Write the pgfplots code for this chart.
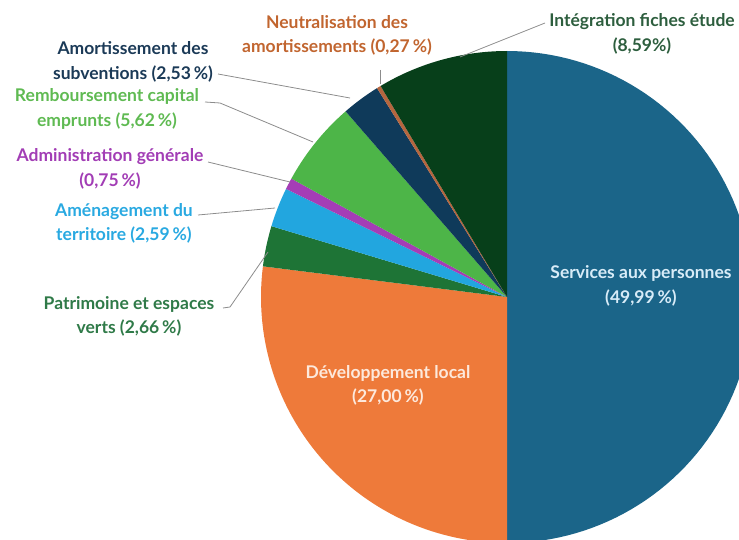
\documentclass[border=0pt]{standalone}
\usepackage{fontspec}
\setmainfont{Lato}
\usepackage{pgfplots}
\pgfplotsset{compat=1.18}

\definecolor{cServ}{HTML}{1B6589}
\definecolor{cDev}{HTML}{EE7A3A}
\definecolor{cPat}{HTML}{1E7436}
\definecolor{cAme}{HTML}{22A6DF}
\definecolor{cAdm}{HTML}{A53DB6}
\definecolor{cRem}{HTML}{4DB548}
\definecolor{cAmo}{HTML}{0F3A5A}
\definecolor{cNeu}{HTML}{B5663F}
\definecolor{cInt}{HTML}{073F1A}

\definecolor{tNeu}{HTML}{C1652F}
\definecolor{tInt}{HTML}{2D5E3E}
\definecolor{tAmo}{HTML}{1B3A57}
\definecolor{tRem}{HTML}{5FBA52}
\definecolor{tAdm}{HTML}{A23DB5}
\definecolor{tAme}{HTML}{29A9E1}
\definecolor{tPat}{HTML}{2F7A48}
\definecolor{tServ}{HTML}{D8ECF8}
\definecolor{tDev}{HTML}{FDE9DC}

% one sector: #1 = share before it (%), #2 = its share (%), #3 = colour
% clockwise from 12 o'clock, centre (507,242), radius 246
\newcommand{\slice}[3]{%
  \addplot[draw=none, fill=#3, domain={90-3.6*(#1+#2)}:{90-3.6*(#1)},
    samples=90, variable=\t]
    ({507+246*cos(\t)}, {242+246*sin(\t)}) -- (axis cs:507,242) -- cycle;
}

\begin{document}
\begin{tikzpicture}[
    lbl/.style={align=center, font=\bfseries\fontsize{17.5}{24.5}\selectfont},
    lead/.style={draw=black!45, line width=0.8pt},
]
\begin{axis}[
    hide axis,
    scale only axis,
    width=739pt, height=539pt,
    xmin=0, xmax=739, ymin=0, ymax=539,
    clip=true,
]
\slice{0}{49.99}{cServ}
\slice{49.99}{27.00}{cDev}
\slice{76.99}{2.66}{cPat}
\slice{79.65}{2.59}{cAme}
\slice{82.24}{0.75}{cAdm}
\slice{82.99}{5.62}{cRem}
\slice{88.61}{2.53}{cAmo}
\slice{91.14}{0.27}{cNeu}
\slice{91.41}{8.59}{cInt}

% leader lines
\draw[lead] (axis cs:380,469) -- (axis cs:380,455);
\draw[lead] (axis cs:545,516) -- (axis cs:460,482);
\draw[lead] (axis cs:218,465) -- (axis cs:350,441);
\draw[lead] (axis cs:205,437) -- (axis cs:220,436) -- (axis cs:313,397);
\draw[lead] (axis cs:208,377) -- (axis cs:290,357);
\draw[lead] (axis cs:198,324) -- (axis cs:275,331);
\draw[lead] (axis cs:223,231) -- (axis cs:230,232) -- (axis cs:268,287);

% labels
\node[lbl, text=tNeu] at (axis cs:337,503.5) {Neutralisation des\\amortissements (0,27\,\%)};
\node[lbl, text=tInt] at (axis cs:642,505) {Intégration fiches étude\\(8,59\%)};
\node[lbl, text=tAmo] at (axis cs:133,477) {Amortissement des\\subventions (2,53\,\%)};
\node[lbl, text=tRem] at (axis cs:107,430) {Remboursement capital\\emprunts (5,62\,\%)};
\node[lbl, text=tAdm] at (axis cs:110,370) {Administration générale\\(0,75\,\%)};
\node[lbl, text=tAme] at (axis cs:124,315.5) {Aménagement du\\territoire (2,59\,\%)};
\node[lbl, text=tPat] at (axis cs:129,222.5) {Patrimoine et espaces\\verts (2,66\,\%)};
\node[lbl, text=tServ] at (axis cs:641,253) {Services aux personnes\\(49,99\,\%)};
\node[lbl, text=tDev] at (axis cs:388,153.5) {Développement local\\(27,00\,\%)};
\end{axis}
\pgfresetboundingbox
\path (current axis.south west) rectangle (current axis.north east);
\end{tikzpicture}
\end{document}
